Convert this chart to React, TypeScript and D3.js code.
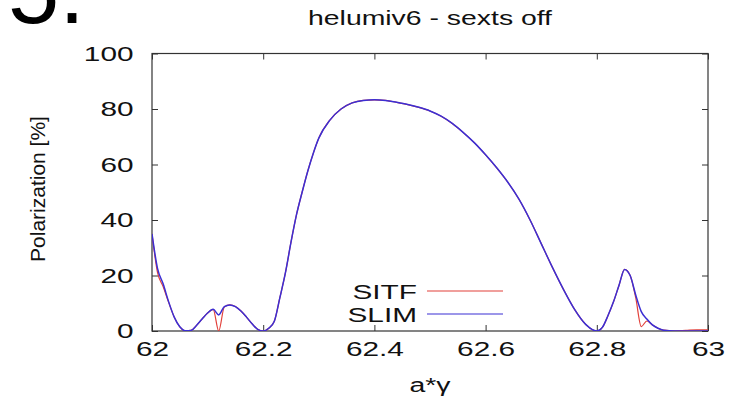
import { useEffect, useRef } from "react";
import * as d3 from "d3";

// a*gamma sample points
const xs = [
  62.0, 62.01, 62.02, 62.03, 62.04, 62.05, 62.06, 62.07, 62.08, 62.09, 62.1, 62.11, 62.12, 62.13,
  62.14, 62.15, 62.16, 62.17, 62.18, 62.19, 62.2, 62.21, 62.22, 62.23, 62.24, 62.25, 62.26, 62.27,
  62.28, 62.29, 62.3, 62.32, 62.34, 62.36, 62.38, 62.4, 62.42, 62.44, 62.46, 62.48, 62.5, 62.52,
  62.54, 62.56, 62.58, 62.6, 62.62, 62.64, 62.66, 62.68, 62.7, 62.72, 62.74, 62.76, 62.78, 62.8,
  62.81, 62.82, 62.83, 62.84, 62.85, 62.86, 62.87, 62.88, 62.89, 62.9, 62.91, 62.92, 62.94, 62.96,
  62.98, 63.0,
];

const slim = [
  35, 22.5, 17, 10.5, 5, 1.5, 0.1, 0.2, 2, 4.3, 6.5, 7.8, 5.8, 8.8,
  9.4, 8.8, 7.2, 5, 2.6, 0.6, 0, 1, 3.5, 12, 21, 32, 42, 50,
  57.5, 64, 69.5, 76, 80, 82.2, 83.1, 83.3, 83.1, 82.4, 81.6, 80.6, 79.3, 77.4,
  74.8, 71.5, 67.8, 63.5, 58.8, 53.6, 47.5, 40, 31.5, 23, 15, 7.8, 2.4, 0,
  1.3, 5.5, 10.5, 16.5, 22.2, 20, 13, 7, 4.3, 2.2, 1, 0.3, 0, 0,
  0, 0,
];

const sitf = [
  35, 21, 16, 10.3, 5, 1.5, 0.1, 0.2, 2, 4.3, 6.5, 7.8, 0, 8.6,
  9.4, 8.8, 7.2, 5, 2.6, 0.6, 0, 1, 3.5, 12, 21, 32, 42, 50,
  57.5, 64, 69.5, 76, 80, 82.2, 83.1, 83.3, 83.1, 82.4, 81.6, 80.6, 79.3, 77.4,
  74.8, 71.5, 67.8, 63.5, 58.8, 53.6, 47.5, 40, 31.5, 23, 15, 7.8, 2.4, 0,
  1.3, 5.5, 10.5, 16.5, 22.2, 20, 12, 1.6, 3.6, 2.2, 1, 0.3, 0, 0.2,
  0.4, 0.4,
];

const xTicks = [62, 62.2, 62.4, 62.6, 62.8, 63];
const yTicks = [0, 20, 40, 60, 80, 100];

const series = [
  { name: "SITF", values: sitf, color: "#e2403a", width: 1.2 },
  { name: "SLIM", values: slim, color: "#3b2fd4", width: 1.5 },
];

const FONT = "'Liberation Sans', Arial, Helvetica, sans-serif";
const SX = 1.42; // horizontal stretch of the original text

export default function App() {
  const svgRef = useRef<SVGSVGElement>(null);

  useEffect(() => {
    if (!svgRef.current) return;
    const svg = d3.select(svgRef.current);
    svg.selectAll("*").remove();

    const left = 152;
    const right = 708;
    const top = 53.5;
    const bottom = 331;

    const x = d3.scaleLinear().domain([62, 63]).range([left, right]);
    const y = d3.scaleLinear().domain([0, 100]).range([bottom, top]);

    // cropped heading fragment from the page above
    svg
      .append("text")
      .attr("x", 8)
      .attr("y", 23)
      .attr("font-family", FONT)
      .attr("font-size", 92)
      .attr("fill", "#000")
      .text("5.");

    svg
      .append("text")
      .attr("transform", `translate(430,25) scale(${SX},1)`)
      .attr("text-anchor", "middle")
      .attr("font-family", FONT)
      .attr("font-size", 20)
      .attr("fill", "#111")
      .text("helumiv6 - sexts off");

    svg
      .append("defs")
      .append("clipPath")
      .attr("id", "plot-clip")
      .append("rect")
      .attr("x", left)
      .attr("y", top)
      .attr("width", right - left)
      .attr("height", bottom - top);

    const styleAxis = (g: any, withLabels: boolean) => {
      g.select(".domain").remove();
      g.selectAll(".tick line").attr("stroke", "#333").attr("stroke-width", 1);
      g.selectAll(".tick text")
        .attr("font-family", FONT)
        .attr("font-size", 21)
        .attr("fill", "#111")
        .attr("transform", `scale(${SX},1)`)
        .style("display", withLabels ? null : "none");
    };

    svg
      .append("g")
      .attr("transform", `translate(0,${bottom})`)
      .call(d3.axisBottom(x).tickValues(xTicks).tickSizeInner(-6).tickSizeOuter(0).tickPadding(10).tickFormat(d3.format("")))
      .call((g: any) => styleAxis(g, true));

    svg
      .append("g")
      .attr("transform", `translate(0,${top})`)
      .call(d3.axisTop(x).tickValues(xTicks).tickSizeInner(-6).tickSizeOuter(0))
      .call((g: any) => styleAxis(g, false));

    svg
      .append("g")
      .attr("transform", `translate(${left},0)`)
      .call(d3.axisLeft(y).tickValues(yTicks).tickSizeInner(-6).tickSizeOuter(0).tickPadding(13))
      .call((g: any) => styleAxis(g, true));

    svg
      .append("g")
      .attr("transform", `translate(${right},0)`)
      .call(d3.axisRight(y).tickValues(yTicks).tickSizeInner(-6).tickSizeOuter(0))
      .call((g: any) => styleAxis(g, false));

    svg
      .append("rect")
      .attr("x", left)
      .attr("y", top)
      .attr("width", right - left)
      .attr("height", bottom - top)
      .attr("fill", "none")
      .attr("stroke", "#333")
      .attr("stroke-width", 1.2);

    const line = d3
      .line<number>()
      .x((_, i) => x(xs[i]))
      .y((d) => y(d))
      .curve(d3.curveMonotoneX);

    const plot = svg.append("g").attr("clip-path", "url(#plot-clip)");
    series.forEach((s) => {
      plot
        .append("path")
        .datum(s.values)
        .attr("d", line)
        .attr("fill", "none")
        .attr("stroke", s.color)
        .attr("stroke-width", s.width)
        .attr("stroke-linejoin", "round");
    });

    // legend
    const legend = svg.append("g");
    series.forEach((s, i) => {
      const ly = 291 + i * 23;
      legend
        .append("text")
        .attr("transform", `translate(417,${ly + 7.5}) scale(${SX},1)`)
        .attr("text-anchor", "end")
        .attr("font-family", FONT)
        .attr("font-size", 21)
        .attr("fill", "#111")
        .text(s.name);
      legend
        .append("line")
        .attr("x1", 427)
        .attr("x2", 503)
        .attr("y1", ly)
        .attr("y2", ly)
        .attr("stroke", s.color)
        .attr("stroke-width", 1.2);
    });

    svg
      .append("text")
      .attr("transform", "translate(45,189) rotate(-90)")
      .attr("text-anchor", "middle")
      .attr("font-family", FONT)
      .attr("font-size", 21)
      .attr("fill", "#111")
      .text("Polarization [%]");

    svg
      .append("text")
      .attr("transform", `translate(430,392) scale(${SX},1)`)
      .attr("text-anchor", "middle")
      .attr("font-family", FONT)
      .attr("font-size", 20)
      .attr("fill", "#111")
      .text("a*γ");
  }, []);

  return (
    <svg
      ref={svgRef}
      width={730}
      height={408}
      style={{ position: "absolute", left: 0, top: 0, background: "#fff" }}
    />
  );
}
